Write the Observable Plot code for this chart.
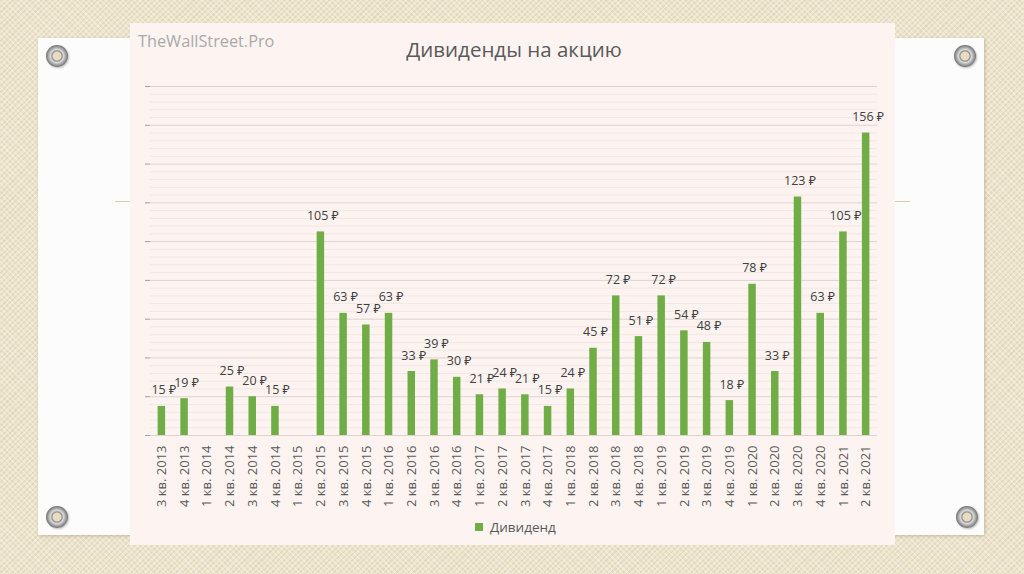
<!DOCTYPE html>
<html>
<head>
<meta charset="utf-8">
<script src="https://cdn.jsdelivr.net/npm/d3@7"></script>
<script src="https://cdn.jsdelivr.net/npm/@observablehq/plot@0.6"></script>
<style>
  html, body { margin: 0; padding: 0; }
  body { width: 1024px; height: 574px; position: relative; overflow: hidden;
    background-color: #ede4cc;
    background-image:
      repeating-linear-gradient(45deg, rgba(255,255,255,0.30) 0 1.5px, rgba(0,0,0,0) 1.5px 4px),
      repeating-linear-gradient(-45deg, rgba(160,140,100,0.14) 0 1.5px, rgba(0,0,0,0) 1.5px 4px);
    font-family: "Open Sans", "Noto Sans", "DejaVu Sans", sans-serif; }
  .abs { position: absolute; }
  #paper { left: 38px; top: 38px; width: 946px; height: 497px; background: #fcfcfc;
    box-shadow: 1px 1px 3px rgba(120,100,60,0.35); }
  #divider { left: 115px; top: 201px; width: 795px; height: 1px; background: #d9ccaa; }
  #panel { left: 130px; top: 23px; width: 765px; height: 522px; background: #fdf4f1; }
  .pin { width: 22px; height: 22px; border-radius: 50%;
    background: radial-gradient(circle at 50% 50%, #e9dcc0 0 4px, #8d8d8d 5px, #dadada 6.5px, #a0a0a0 9px, #707070 11px);
    box-shadow: 1px 1px 2px rgba(0,0,0,0.25); }
  #watermark { left: 138px; top: 30px; font-size: 16.3px; color: #a9a9a9; }
  #title { left: 0; width: 1024px; top: 35px; text-align: center; font-size: 20.5px; color: #595959; padding-left: 4px; box-sizing: border-box; }
  #legend { left: 475px; top: 518px; font-size: 13.5px; color: #595959; display: flex; align-items: center; }
  #legend span.sw { width: 8px; height: 8px; background: #70ad47; display: inline-block; margin-right: 7px; }
  #chart { left: 0; top: 0; }
</style>
</head>
<body>
<div id="paper" class="abs"></div>
<div id="divider" class="abs"></div>
<div class="abs pin" style="left:46px;top:45px"></div>
<div class="abs pin" style="left:954px;top:45px"></div>
<div class="abs pin" style="left:46px;top:506px"></div>
<div class="abs pin" style="left:956px;top:506px"></div>
<div id="panel" class="abs"></div>
<div id="watermark" class="abs">TheWallStreet.Pro</div>
<div id="title" class="abs">Дивиденды на акцию</div>
<div id="chart" class="abs"></div>
<div id="legend" class="abs"><span class="sw"></span>Дивиденд</div>
<script>
const quarters = [
  "3 кв. 2013","4 кв. 2013",
  "1 кв. 2014","2 кв. 2014","3 кв. 2014","4 кв. 2014",
  "1 кв. 2015","2 кв. 2015","3 кв. 2015","4 кв. 2015",
  "1 кв. 2016","2 кв. 2016","3 кв. 2016","4 кв. 2016",
  "1 кв. 2017","2 кв. 2017","3 кв. 2017","4 кв. 2017",
  "1 кв. 2018","2 кв. 2018","3 кв. 2018","4 кв. 2018",
  "1 кв. 2019","2 кв. 2019","3 кв. 2019","4 кв. 2019",
  "1 кв. 2020","2 кв. 2020","3 кв. 2020","4 кв. 2020",
  "1 кв. 2021","2 кв. 2021"
];
const dividends = [
  15, 19,
  null, 25, 20, 15,
  null, 105, 63, 57,
  63, 33, 39, 30,
  21, 24, 21, 15,
  24, 45, 72, 51,
  72, 54, 48, 18,
  78, 33, 123, 63,
  105, 156
];
const majorTicks = [0, 20, 40, 60, 80, 100, 120, 140, 160, 180];
const minorTicks = d3.range(0, 181, 4).filter(v => v % 20 !== 0);

const data = quarters.map((q, i) => ({q, v: dividends[i]})).filter(d => d.v != null);

const font = '"Open Sans", "Noto Sans", "DejaVu Sans", sans-serif';
const chart = Plot.plot({
  width: 1024,
  height: 574,
  marginLeft: 150,
  marginRight: 147,
  marginTop: 86,
  marginBottom: 139,
  style: {background: "transparent", fontFamily: font},
  x: {domain: quarters, paddingInner: 0.67, paddingOuter: 0.335, round: false},
  y: {domain: [0, 180]},
  marks: [
    Plot.ruleY(minorTicks, {stroke: "#f3e6e3", strokeWidth: 1}),
    Plot.ruleY(majorTicks, {stroke: "#ddd2d0", strokeWidth: 1}),
    Plot.axisY(majorTicks, {tickSize: 5, tickFormat: () => "", stroke: "#9f9f9f", label: null}),
    Plot.axisX({tickRotate: -90, tickSize: 0, tickPadding: 10, fontSize: 13, fill: "#595959", label: null}),
    Plot.barY(data, {x: "q", y: "v", fill: "#70ad47"}),
    Plot.text(data, {x: "q", y: "v", text: d => `${d.v} ₽`, dy: -16, dx: 2, fontSize: 12.5, fill: "#404040"})
  ]
});
document.getElementById("chart").appendChild(chart);
</script>
</body>
</html>
